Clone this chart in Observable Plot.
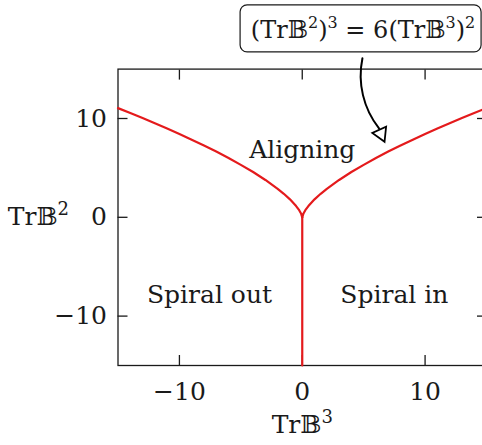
<!DOCTYPE html>
<html>
<head>
<meta charset="utf-8">
<script src="https://cdn.jsdelivr.net/npm/d3@7"></script>
<script src="https://cdn.jsdelivr.net/npm/@observablehq/plot@0.6"></script>
<style>
  html, body { margin: 0; padding: 0; overflow: hidden; background: #fff; }
  #chart svg { display: block; max-width: none !important; }
</style>
</head>
<body>
<div id="chart"></div>
<script>
// Boundary (TrB²)³ = 6(TrB³)² between the aligning and spiralling regimes
const boundaryTrB3 = [-15, -14, -13, -12, -11, -10, -9, -8, -7, -6, -5, -4, -3, -2, -1.5, -1, -0.5, -0.25, -0.1, 0,
                      0.1, 0.25, 0.5, 1, 1.5, 2, 3, 4, 5, 6, 7, 8, 9, 10, 11, 12, 13, 14, 15];
const boundaryTrB2 = [11.05, 10.56, 10.05, 9.52, 8.99, 8.43, 7.86, 7.27, 6.65, 6.00, 5.31, 4.58, 3.78, 2.88, 2.38, 1.82, 1.14, 0.72, 0.39, 0,
                      0.39, 0.72, 1.14, 1.82, 2.38, 2.88, 3.78, 4.58, 5.31, 6.00, 6.65, 7.27, 7.86, 8.43, 8.99, 9.52, 10.05, 10.56, 11.05];

// Boundary between spiral out and spiral in (TrB³ = 0, TrB² < 0)
const splitTrB3 = [0, 0];
const splitTrB2 = [0, -15];

const xTicks = [-10, 0, 10];
const yTicks = [-10, 0, 10];

const regionNames = ["Aligning", "Spiral out", "Spiral in"];
const regionTrB3 = [0, -7.55, 7.5];
const regionTrB2 = [6.85, -7.9, -7.9];

const xLabel = "Tr𝔹³";
const yLabel = "Tr𝔹²";
const curveLabel = "(Tr𝔹²)³ = 6(Tr𝔹³)²";

const boundary = boundaryTrB3.map((x, i) => ({x, y: boundaryTrB2[i]}));
const split = splitTrB3.map((x, i) => ({x, y: splitTrB2[i]}));
const regions = regionNames.map((name, i) => ({name, x: regionTrB3[i], y: regionTrB2[i]}));

const font = "'DejaVu Serif', 'DejaVu Sans', serif";
const red = "#e41a1c";
const ink = "#1a1a1a";

const chart = Plot.plot({
  width: 490,
  height: 445,
  marginLeft: 117.5,
  marginRight: 4,
  marginTop: 68.6,
  marginBottom: 80,
  style: {fontFamily: font, fontSize: "25px", color: ink, background: "#fff"},
  x: {domain: [-15, 15]},
  y: {domain: [-15, 15]},
  marks: [
    Plot.frame({stroke: ink, strokeWidth: 1.3}),
    // inward ticks on all four sides
    Plot.axisX({anchor: "bottom", ticks: xTicks, tickSize: -10, tickFormat: () => "", strokeWidth: 1.3, stroke: ink}),
    Plot.axisX({anchor: "top", ticks: xTicks, tickSize: -10, tickFormat: () => "", strokeWidth: 1.3, stroke: ink}),
    Plot.axisY({anchor: "left", ticks: yTicks, tickSize: -10, tickFormat: () => "", strokeWidth: 1.3, stroke: ink}),
    Plot.axisY({anchor: "right", ticks: yTicks, tickSize: -10, tickFormat: () => "", strokeWidth: 1.3, stroke: ink}),
    // tick labels
    Plot.axisX({anchor: "bottom", ticks: xTicks, tickSize: 0, tickPadding: 17, label: null, fontSize: 25, fill: ink}),
    Plot.axisY({anchor: "left", ticks: yTicks, tickSize: 0, tickPadding: 11, label: null, fontSize: 25, fill: ink}),
    // axis titles
    Plot.text([xLabel], {frameAnchor: "bottom", dy: 67, fontSize: 25, fill: ink, className: "math"}),
    Plot.text([yLabel], {frameAnchor: "left", dx: -49, textAnchor: "end", fontSize: 25, fill: ink, className: "math"}),
    // regime boundaries
    Plot.line(boundary, {x: "x", y: "y", stroke: red, strokeWidth: 2.2}),
    Plot.line(split, {x: "x", y: "y", stroke: red, strokeWidth: 2.2}),
    // region names
    Plot.text(regions, {x: "x", y: "y", text: "name", fontSize: 25, fill: ink}),
    // equation callout
    Plot.rect([{x1: -5.02, x2: 14.6, y1: 16.69, y2: 21.45}], {x1: "x1", x2: "x2", y1: "y1", y2: "y2", rx: 7, fill: "white", stroke: ink, strokeWidth: 1.2}),
    Plot.text([{x: 4.95, y: 18.95}], {x: "x", y: "y", text: () => curveLabel, fontSize: 24, fill: ink, className: "math eq"}),
    Plot.arrow([{x1: 4.9, y1: 16.1, x2: 6.25, y2: 9.0}], {x1: "x1", y1: "y1", x2: "x2", y2: "y2", bend: -25, headLength: 0, stroke: "black", strokeWidth: 2}),
    Plot.dot([{x: 6.41, y: 8.45}], {x: "x", y: "y", symbol: "triangle", r: 5.6, rotate: 156, fill: "white", stroke: "black", strokeWidth: 1.8})
  ]
});

// Typeset ² and ³ as raised, smaller digits in the math labels
const sup = {"²": "2", "³": "3"};
chart.querySelectorAll("g.math text").forEach(node => {
  const s = node.textContent;
  const tight = node.parentNode.classList.contains("eq");
  node.textContent = "";
  let buf = "";
  const flush = () => {
    if (buf) { const t = document.createElementNS("http://www.w3.org/2000/svg", "tspan"); t.textContent = buf; node.appendChild(t); buf = ""; }
  };
  for (const ch of s) {
    if (sup[ch]) {
      flush();
      const t = document.createElementNS("http://www.w3.org/2000/svg", "tspan");
      t.setAttribute("font-size", tight ? "16" : "18");
      t.setAttribute("baseline-shift", "10");
      t.textContent = sup[ch];
      node.appendChild(t);
    } else buf += ch;
  }
  flush();
});

document.getElementById("chart").appendChild(chart);
</script>
</body>
</html>
